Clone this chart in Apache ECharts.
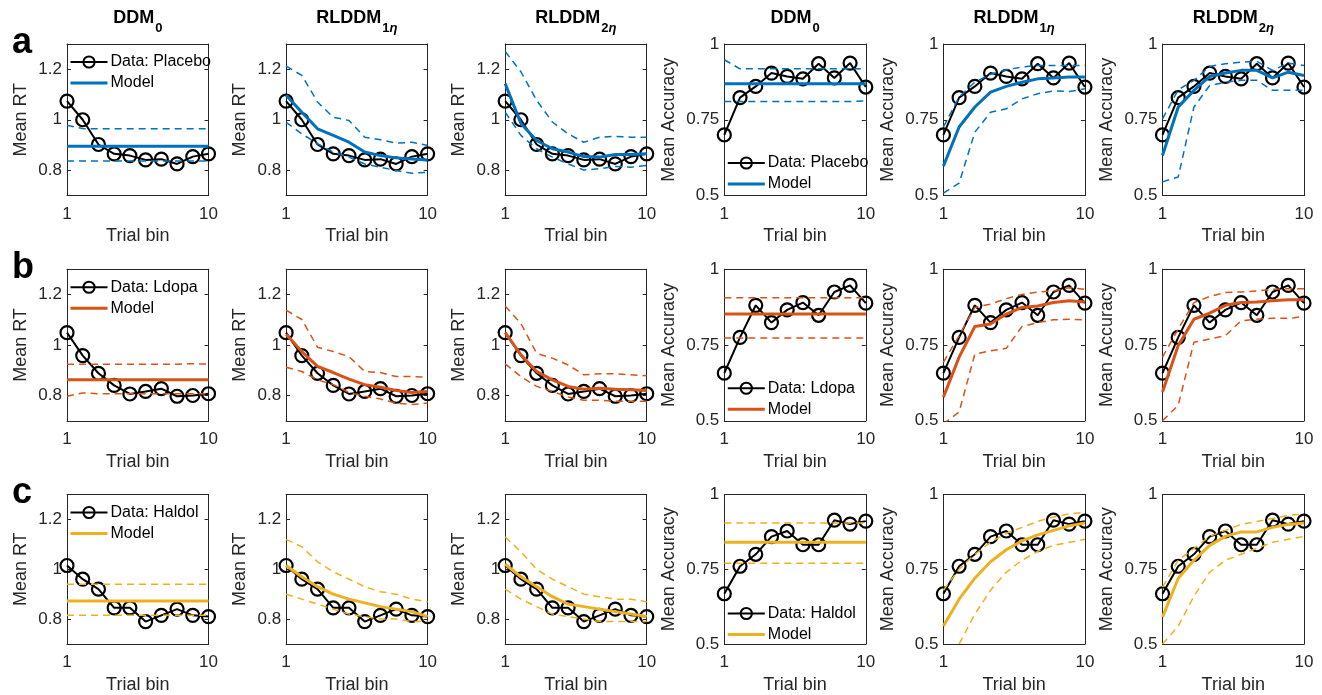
<!DOCTYPE html>
<html><head><meta charset="utf-8">
<script src="https://cdn.jsdelivr.net/npm/echarts@6/dist/echarts.min.js"></script>
<style>html,body{margin:0;padding:0;background:#fff}#c{width:1322px;height:695px}</style>
</head><body><div id="c"></div>
<script>
// ---------- data ----------
const trialBins = [1,2,3,4,5,6,7,8,9,10];
const xTicks = [1, 10];
const rtTicks = [0.8, 1, 1.2];
const accTicks = [0.5, 0.75, 1];
const columnTitles = ['DDM0','RLDDM1η','RLDDM2η','DDM0','RLDDM1η','RLDDM2η'];
const panelLetters = ['a','b','c'];
const conditions = ['Placebo','Ldopa','Haldol'];

const placeboRT  = [1.074, 1.0, 0.902, 0.865, 0.858, 0.841, 0.844, 0.825, 0.854, 0.865];
const placeboAcc = [0.70, 0.823, 0.86, 0.904, 0.893, 0.885, 0.935, 0.888, 0.937, 0.858];
const ldopaRT    = [1.049, 0.958, 0.888, 0.84, 0.806, 0.816, 0.827, 0.797, 0.80, 0.807];
const ldopaAcc   = [0.657, 0.775, 0.881, 0.824, 0.866, 0.89, 0.848, 0.925, 0.947, 0.888];
const haldolRT   = [1.015, 0.96, 0.92, 0.845, 0.845, 0.79, 0.815, 0.84, 0.815, 0.81];
const haldolAcc  = [0.668, 0.76, 0.80, 0.859, 0.878, 0.832, 0.832, 0.914, 0.901, 0.911];

// model predictions: mean, upper, lower
const placeboRT_DDM0 = {
  mean:  [0.895,0.895,0.895,0.895,0.895,0.895,0.895,0.895,0.895,0.895],
  upper: [0.978,0.965,0.964,0.964,0.964,0.964,0.964,0.964,0.964,0.964],
  lower: [0.837,0.837,0.837,0.837,0.837,0.837,0.837,0.837,0.837,0.837]};
const placeboRT_RL1 = {
  mean:  [1.097,1.03,0.964,0.938,0.911,0.872,0.858,0.849,0.845,0.841],
  upper: [1.212,1.176,1.07,1.01,0.997,0.931,0.921,0.907,0.911,0.898],
  lower: [0.99,0.944,0.905,0.872,0.852,0.825,0.812,0.799,0.788,0.792]};
const placeboRT_RL2 = {
  mean:  [1.143,0.985,0.918,0.885,0.872,0.854,0.852,0.862,0.862,0.865],
  upper: [1.27,1.19,1.077,0.991,0.944,0.911,0.931,0.934,0.931,0.931],
  lower: [1.03,0.938,0.885,0.852,0.825,0.801,0.806,0.815,0.812,0.819]};
const placeboAcc_DDM0 = {
  mean:  [0.869,0.869,0.869,0.869,0.869,0.869,0.869,0.869,0.869,0.869],
  upper: [0.948,0.918,0.918,0.918,0.918,0.918,0.918,0.918,0.918,0.918],
  lower: [0.81,0.81,0.81,0.81,0.81,0.81,0.81,0.81,0.81,0.812]};
const placeboAcc_RL1 = {
  mean:  [0.597,0.726,0.792,0.841,0.86,0.874,0.885,0.888,0.891,0.891],
  upper: [0.726,0.825,0.874,0.9,0.915,0.924,0.929,0.929,0.929,0.929],
  lower: [0.508,0.541,0.709,0.775,0.786,0.819,0.836,0.845,0.843,0.852]};
const placeboAcc_RL2 = {
  mean:  [0.632,0.792,0.847,0.893,0.904,0.913,0.913,0.888,0.907,0.896],
  upper: [0.753,0.849,0.88,0.926,0.935,0.94,0.943,0.913,0.937,0.929],
  lower: [0.545,0.561,0.792,0.863,0.874,0.88,0.88,0.847,0.847,0.847]};

const ldopaRT_DDM0 = {
  mean:  [0.862,0.862,0.862,0.862,0.862,0.862,0.862,0.862,0.862,0.862],
  upper: [0.924,0.924,0.924,0.924,0.924,0.924,0.924,0.924,0.926,0.924],
  lower: [0.797,0.81,0.807,0.807,0.807,0.807,0.807,0.807,0.807,0.807]};
const ldopaRT_RL1 = {
  mean:  [1.043,0.974,0.915,0.891,0.865,0.843,0.833,0.82,0.812,0.816],
  upper: [1.138,1.101,0.991,0.974,0.954,0.895,0.891,0.875,0.875,0.873],
  lower: [0.912,0.895,0.862,0.843,0.812,0.797,0.786,0.77,0.764,0.77]};
const ldopaRT_RL2 = {
  mean:  [1.049,0.961,0.895,0.862,0.836,0.825,0.829,0.825,0.823,0.82],
  upper: [1.154,1.085,0.967,0.948,0.921,0.882,0.886,0.886,0.882,0.878],
  lower: [0.925,0.875,0.836,0.816,0.794,0.781,0.781,0.777,0.777,0.777]};
const ldopaAcc_DDM0 = {
  mean:  [0.852,0.852,0.852,0.852,0.852,0.852,0.852,0.852,0.852,0.852],
  upper: [0.906,0.906,0.906,0.906,0.906,0.906,0.906,0.906,0.906,0.906],
  lower: [0.773,0.773,0.773,0.773,0.773,0.773,0.773,0.773,0.773,0.773]};
const ldopaAcc_RL1 = {
  mean:  [0.578,0.71,0.811,0.819,0.852,0.874,0.879,0.89,0.896,0.892],
  upper: [0.693,0.781,0.874,0.885,0.903,0.917,0.925,0.928,0.939,0.934],
  lower: [0.49,0.529,0.72,0.731,0.739,0.811,0.824,0.833,0.835,0.833]};
const ldopaAcc_RL2 = {
  mean:  [0.595,0.748,0.835,0.855,0.881,0.89,0.892,0.896,0.899,0.899],
  upper: [0.71,0.803,0.89,0.91,0.923,0.925,0.928,0.934,0.936,0.936],
  lower: [0.5,0.551,0.759,0.77,0.781,0.83,0.835,0.838,0.838,0.844]};

const haldolRT_DDM0 = {
  mean:  [0.873,0.873,0.873,0.873,0.873,0.873,0.873,0.873,0.873,0.873],
  upper: [0.94,0.94,0.94,0.94,0.94,0.94,0.94,0.94,0.94,0.94],
  lower: [0.815,0.815,0.815,0.815,0.815,0.815,0.815,0.815,0.815,0.815]};
const haldolRT_RL1 = {
  mean:  [1.015,0.97,0.93,0.9,0.88,0.865,0.85,0.84,0.83,0.81],
  upper: [1.12,1.09,1.03,0.99,0.96,0.93,0.91,0.9,0.88,0.87],
  lower: [0.9,0.88,0.86,0.84,0.82,0.81,0.8,0.8,0.79,0.79]};
const haldolRT_RL2 = {
  mean:  [1.02,0.97,0.93,0.89,0.86,0.85,0.84,0.83,0.82,0.81],
  upper: [1.13,1.07,1.0,0.96,0.93,0.9,0.89,0.88,0.88,0.87],
  lower: [0.92,0.88,0.85,0.82,0.81,0.8,0.79,0.79,0.79,0.79]};
const haldolAcc_DDM0 = {
  mean:  [0.84,0.84,0.84,0.84,0.84,0.84,0.84,0.84,0.84,0.84],
  upper: [0.905,0.905,0.905,0.905,0.905,0.905,0.905,0.905,0.905,0.905],
  lower: [0.77,0.77,0.77,0.77,0.77,0.77,0.77,0.77,0.77,0.77]};
const haldolAcc_RL1 = {
  mean:  [0.56,0.65,0.72,0.775,0.815,0.845,0.865,0.88,0.895,0.905],
  upper: [0.68,0.75,0.8,0.84,0.87,0.89,0.91,0.925,0.935,0.94],
  lower: [0.44,0.5,0.6,0.68,0.74,0.78,0.81,0.83,0.84,0.85]};
const haldolAcc_RL2 = {
  mean:  [0.59,0.72,0.78,0.83,0.86,0.875,0.875,0.89,0.9,0.905],
  upper: [0.69,0.78,0.82,0.86,0.88,0.9,0.91,0.92,0.93,0.935],
  lower: [0.5,0.56,0.66,0.74,0.78,0.8,0.82,0.84,0.85,0.86]};

// ---------- assembly ----------
const colors = ['#0072BD', '#D95319', '#EDB120'];
const rowData = [
  {rt: placeboRT, acc: placeboAcc, models: [placeboRT_DDM0, placeboRT_RL1, placeboRT_RL2, placeboAcc_DDM0, placeboAcc_RL1, placeboAcc_RL2]},
  {rt: ldopaRT, acc: ldopaAcc, models: [ldopaRT_DDM0, ldopaRT_RL1, ldopaRT_RL2, ldopaAcc_DDM0, ldopaAcc_RL1, ldopaAcc_RL2]},
  {rt: haldolRT, acc: haldolAcc, models: [haldolRT_DDM0, haldolRT_RL1, haldolRT_RL2, haldolAcc_DDM0, haldolAcc_RL1, haldolAcc_RL2]}
];

const FONT = '"Liberation Sans", Arial, Helvetica, sans-serif';
const TXT = '#262626';
const G_LEFT0 = 67, G_DX = 219.1, G_W = 141.5;
const G_TOP0 = 44, G_DY = 225.25, G_H = 151.5;

const pairs = ys => trialBins.map((x, i) => [x, ys[i]]);

const grid = [], xAxis = [], yAxis = [], series = [], legend = [], title = [];
let gi = 0;
for (let r = 0; r < 3; r++) {
  for (let c = 0; c < 6; c++) {
    const left = G_LEFT0 + c * G_DX, top = G_TOP0 + r * G_DY;
    const isAcc = c >= 3;
    grid.push({left, top, width: G_W, height: G_H, containLabel: false});
    const axLine = {show: true, lineStyle: {color: TXT, width: 1}};
    xAxis.push({type: 'value', gridIndex: gi, min: 1, max: 10, interval: 9, position: 'bottom',
      name: 'Trial bin', nameLocation: 'middle', nameGap: 32,
      nameTextStyle: {fontFamily: FONT, fontSize: 18, color: TXT},
      axisLine: axLine, axisTick: {show: true, inside: true, length: 4, lineStyle: {color: TXT}, customValues: xTicks},
      axisLabel: {fontFamily: FONT, fontSize: 17, color: TXT, margin: 10, customValues: xTicks}, splitLine: {show: false}});
    xAxis.push({type: 'value', gridIndex: gi, min: 1, max: 10, interval: 9, position: 'top',
      axisLine: axLine, axisTick: {show: false}, axisLabel: {show: false}, splitLine: {show: false}});
    const yTicks = isAcc ? accTicks : rtTicks;
    const yMin = isAcc ? 0.5 : 0.7, yMax = isAcc ? 1 : 1.3;
    yAxis.push({type: 'value', gridIndex: gi, min: yMin, max: yMax, position: 'left',
      name: isAcc ? 'Mean Accuracy' : 'Mean RT', nameLocation: 'middle', nameGap: isAcc ? 46 : 37,
      nameTextStyle: {fontFamily: FONT, fontSize: 18, color: TXT},
      axisLine: axLine,
      axisTick: {show: true, inside: true, length: 4, lineStyle: {color: TXT}, customValues: yTicks},
      axisLabel: {fontFamily: FONT, fontSize: 17, color: TXT, margin: 5, customValues: yTicks},
      splitLine: {show: false}});
    yAxis.push({type: 'value', gridIndex: gi, min: yMin, max: yMax, position: 'right',
      axisLine: axLine,
      axisTick: {show: true, inside: true, length: 4, lineStyle: {color: TXT}, customValues: yTicks},
      axisLabel: {show: false}, splitLine: {show: false}});

    const rd = rowData[r];
    const m = rd.models[c];
    const col = colors[r];
    const dataName = 'Data: ' + conditions[r];
    series.push({type: 'line', name: dataName, xAxisIndex: gi * 2, yAxisIndex: gi * 2,
      data: pairs(isAcc ? rd.acc : rd.rt), symbol: 'circle', symbolSize: 13,
      lineStyle: {color: '#000', width: 2}, itemStyle: {color: 'rgba(255,255,255,0)', borderColor: '#000', borderWidth: 2.2},
      z: 2, animation: false, silent: true});
    series.push({type: 'line', name: 'Model', xAxisIndex: gi * 2, yAxisIndex: gi * 2,
      data: pairs(m.mean), symbol: 'none', lineStyle: {color: col, width: 3}, itemStyle: {color: col},
      z: 3, animation: false, silent: true});
    ['upper', 'lower'].forEach(k => series.push({type: 'line', name: 'Model ' + k, xAxisIndex: gi * 2, yAxisIndex: gi * 2,
      data: pairs(m[k]), symbol: 'none', lineStyle: {color: col, width: 1.5, type: [7, 5]}, itemStyle: {color: col},
      z: 3, animation: false, silent: true}));

    if (c === 0 || c === 3) {
      legend.push({orient: 'vertical', left: left + 2, top: c === 0 ? top + 10 : top + 111,
        padding: 0, itemWidth: 37, itemHeight: 14, itemGap: 5, selectedMode: false,
        textStyle: {fontFamily: FONT, fontSize: 16, color: '#000', padding: [0, 0, 0, -2]},
        data: [{name: dataName},
               {name: 'Model', itemStyle: {color: 'rgba(0,0,0,0)', borderWidth: 0, borderColor: 'rgba(0,0,0,0)'},
                lineStyle: {color: col, width: 3}}]});
    }
    if (r === 0) {
      const t = columnTitles[c];
      const base = t.replace(/[0-9]+η?$/, ''), sub = t.slice(base.length);
      const subNum = sub.replace('η', ''), hasEta = sub.includes('η');
      title.push({left: left + G_W / 2, top: 9, textAlign: 'center', padding: 0,
        text: '{m|' + base + '}{s|' + subNum + '}' + (hasEta ? '{e|η}' : ''),
        textStyle: {fontFamily: FONT, rich: {
          m: {fontFamily: FONT, fontSize: 18, fontWeight: 'bold', color: '#000', verticalAlign: 'top', lineHeight: 22},
          s: {fontFamily: FONT, fontSize: 13, fontWeight: 'bold', color: '#000', verticalAlign: 'top', lineHeight: 14, padding: [13, 0, 0, 1]},
          e: {fontFamily: FONT, fontSize: 13, fontWeight: 'bold', fontStyle: 'italic', color: '#000', verticalAlign: 'top', lineHeight: 14, padding: [13, 0, 0, 0]}
        }}});
    }
    gi++;
  }
  title.push({left: 7, top: G_TOP0 + r * G_DY - 24, text: panelLetters[r],
    textStyle: {fontFamily: FONT, fontSize: 36, fontWeight: 'bold', color: '#000'}});
}

const chart = echarts.init(document.getElementById('c'), null, {renderer: 'canvas'});
chart.setOption({backgroundColor: '#fff', animation: false, title, grid, xAxis, yAxis, series, legend});
</script></body></html>
